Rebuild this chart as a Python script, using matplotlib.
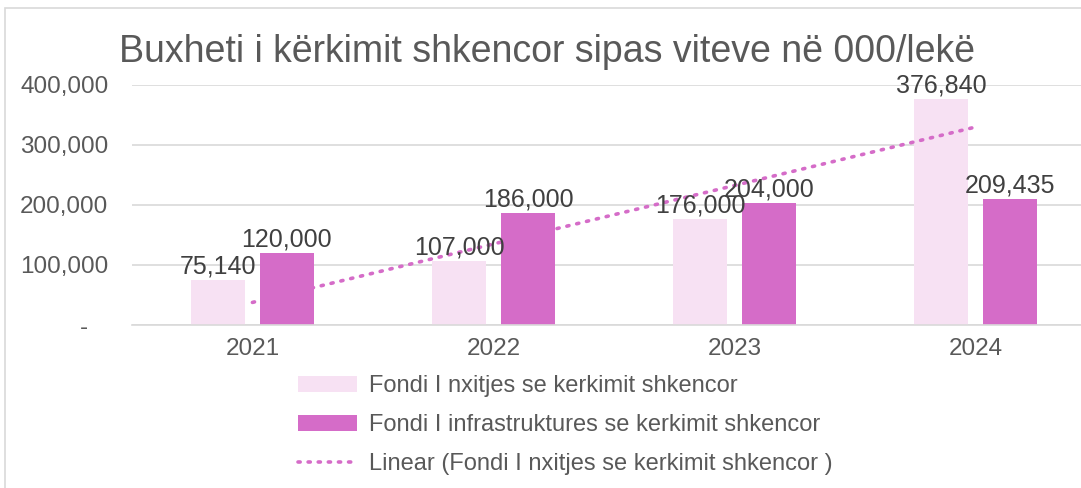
import numpy as np
import matplotlib.pyplot as plt
from matplotlib.ticker import FuncFormatter

plt.rcParams['font.family'] = ['Liberation Sans', 'DejaVu Sans']

years = ['2021', '2022', '2023', '2024']
fondi_nxitjes = [75140, 107000, 176000, 376840]
fondi_infra = [120000, 186000, 204000, 209435]

light = '#F7E1F3'
magenta = '#D56CC8'
grid_c = '#D9D9D9'
text_c = '#595959'
label_c = '#404040'

fig = plt.figure(figsize=(10.81, 4.88), dpi=100)
# outer chart border (right edge falls off the crop)
fig.patches.append(plt.Rectangle((5 / 1081, -0.1), 1.2, (488 - 8) / 488 + 0.1,
                                 transform=fig.transFigure, fill=False,
                                 edgecolor=grid_c, linewidth=1.2))
ax = fig.add_axes([0.122, 0.334, 0.892, 0.492])

x = np.arange(len(years))
w = 0.224
off = 0.143
b1 = ax.bar(x - off, fondi_nxitjes, w, color=light, label='Fondi I nxitjes se kerkimit shkencor', zorder=2)
b2 = ax.bar(x + off, fondi_infra, w, color=magenta, label='Fondi I infrastruktures se kerkimit shkencor', zorder=2)

# linear trendline of first series
coef = np.polyfit(x + 1, fondi_nxitjes, 1)
trend = np.poly1d(coef)(x + 1)
tl, = ax.plot(x, trend, color=magenta, linestyle=(0, (0.6, 2.2)), linewidth=2.6,
              dash_capstyle='round', label='Linear (Fondi I nxitjes se kerkimit shkencor )', zorder=3)

for bars, vals in [(b1, fondi_nxitjes), (b2, fondi_infra)]:
    for r, v in zip(bars, vals):
        ax.text(r.get_x() + r.get_width() / 2, v + 2500, f'{v:,}', ha='center', va='bottom',
                fontsize=18, color=label_c, zorder=4)

ax.set_xlim(-0.5, 3.5)
ax.set_ylim(0, 400000)
ax.set_yticks([0, 100000, 200000, 300000, 400000])
ax.yaxis.set_major_formatter(FuncFormatter(lambda v, p: '-   ' if v == 0 else f'{int(v):,}'))
ax.set_xticks(x)
ax.set_xticklabels(years)
ax.tick_params(axis='both', length=0, labelsize=17.5, colors=text_c)
ax.tick_params(axis='y', pad=17)
ax.tick_params(axis='x', pad=9)
ax.grid(axis='y', color=grid_c, linewidth=1.2, zorder=0)
for s in ['top', 'right', 'left']:
    ax.spines[s].set_visible(False)
ax.spines['bottom'].set_color(grid_c)
ax.spines['bottom'].set_linewidth(1.2)

fig.text(0.506, 0.893, 'Buxheti i kërkimit shkencor sipas viteve në 000/lekë', ha='center', va='center',
         fontsize=27, color=text_c)

fig.legend(handles=[b1, b2, tl], loc='upper left', bbox_to_anchor=(277 / 1081, 1 - 354 / 488),
           frameon=False, fontsize=17, labelcolor=text_c, handlelength=2.5,
           handletextpad=0.5, labelspacing=0.72, borderpad=0.4)

plt.savefig('out.png', dpi=100)
